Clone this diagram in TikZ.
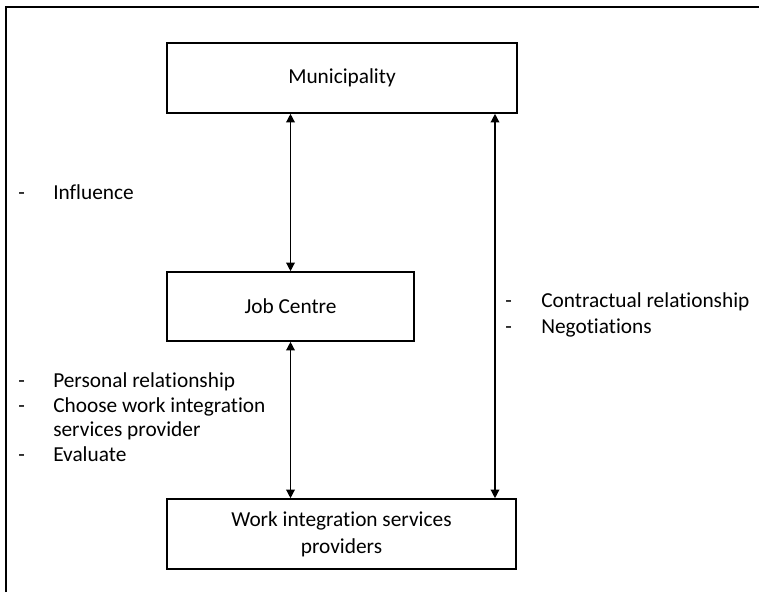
\documentclass[tikz,border=0pt]{standalone}
\usepackage{fontspec}
\setmainfont{Carlito}[Ligatures=NoCommon]
\usetikzlibrary{arrows.meta}
\begin{document}
\begin{tikzpicture}[x=0.75pt,y=-0.75pt,
  every node/.style={font=\fontsize{16}{20}\selectfont},
  box/.style={draw, line width=1.2pt, inner sep=0pt, align=center},
  lbl/.style={anchor=base west, inner sep=0pt},
  arr/.style={line width=1pt, {Triangle[length=6.5pt,width=6.5pt]}-{Triangle[length=6.5pt,width=6.5pt]}},
  frame/.style={line width=1.5pt}]
\useasboundingbox (0,0) rectangle (759,592);
\draw[frame] (6,592) -- (6,7.5) -- (759,7.5);
\node[box, minimum width=350*0.75pt, minimum height=70*0.75pt] (mun) at (342,78) {Municipality};
\node[box, minimum width=247*0.75pt, minimum height=69*0.75pt] (jc) at (290.5,306.5) {Job Centre};
\node[box, minimum width=349*0.75pt, minimum height=70*0.75pt] (wisp) at (341.5,534) {Work integration services\\providers};
\coordinate (rx) at (495,0);
\draw[arr] (mun.south -| jc.north) -- (jc.north);
\draw[arr] (jc.south) -- (wisp.north -| jc.south);
\draw[arr] (mun.south -| rx) -- (wisp.north -| rx);
% left labels
\node[lbl] (d1) at (18,199) {-};
\node[lbl] (t1) at (53,199) {Influence};
\node[lbl] (d2) at (18,387) {-};
\node[lbl] (t2) at (53,387) {Personal relationship};
\node[lbl] (d3) at (18,412) {-};
\node[lbl] (t3) at (53,412) {Choose work integration};
\node[lbl] (t3b) at (53,436) {services provider};
\node[lbl] (d4) at (18,461) {-};
\node[lbl] (t4) at (53,461) {Evaluate};
% right labels
\node[lbl] (d5) at (505,307) {-};
\node[lbl] (t5) at (541,307) {Contractual relationship};
\node[lbl] (d6) at (505,333) {-};
\node[lbl] (t6) at (541,333) {Negotiations};
\end{tikzpicture}
\end{document}
